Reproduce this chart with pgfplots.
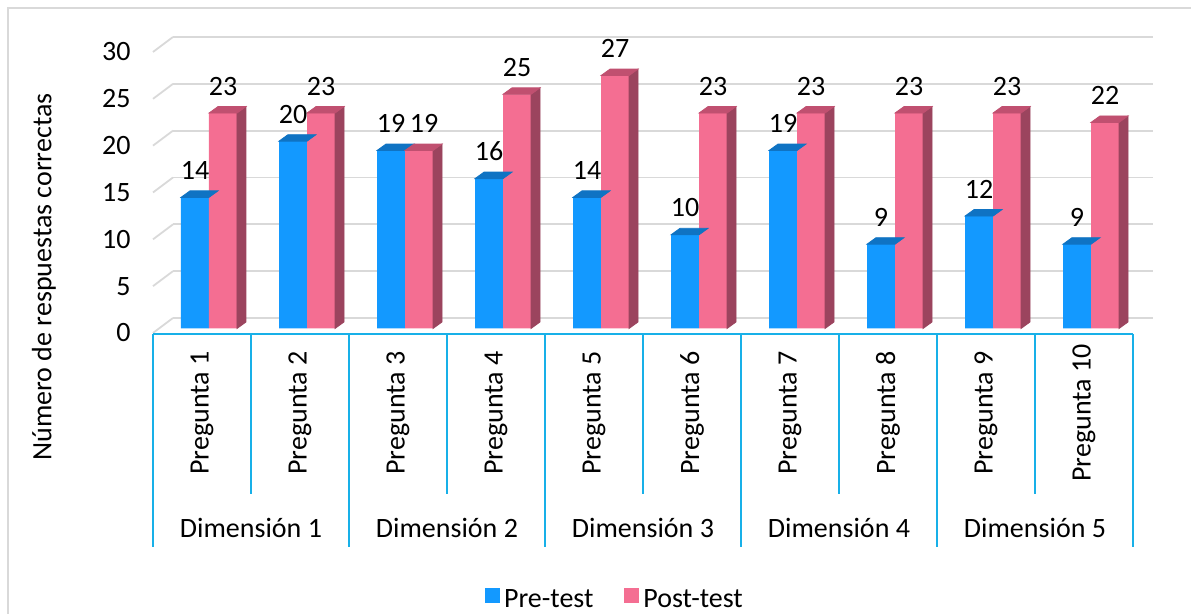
\documentclass[border=0pt]{standalone}
\usepackage{pgfplots}
\pgfplotsset{compat=1.18}
\usepackage{pgfplotstable}
\usepackage{fontspec}
\setmainfont{Carlito}
\definecolor{bluefront}{RGB}{19,153,255}
\definecolor{bluetop}{RGB}{15,115,195}
\definecolor{pinkfront}{RGB}{244,110,146}
\definecolor{pinktop}{RGB}{192,80,112}
\definecolor{pinkside}{RGB}{155,68,94}
\definecolor{gridgray}{RGB}{217,217,217}
\definecolor{axcyan}{RGB}{24,176,232}
\pgfdeclareplotmark{none3d}{}
\pgfplotstableread{
x pre post pshift
0 14 23 10.5
1 20 23 10.5
2 19 19 13
3 16 25 10.5
4 14 27 10.5
5 10 23 10.5
6 19 23 10.5
7 9 23 10.5
8 12 23 10.5
9 9 22 10.5
}\datatable
\newcommand{\lblfont}{\fontsize{14}{16}\selectfont}
\begin{document}
\begin{tikzpicture}
\useasboundingbox (0,0) rectangle (595.5pt,307pt);
\draw[gridgray, line width=0.75pt] (4pt,0pt) -- (4pt,303pt) -- (595.5pt,303pt);
\begin{axis}[
  at={(76.5pt,140.5pt)}, anchor=south west,
  scale only axis, width=490pt, height=140.5pt,
  xmin=-0.5, xmax=9.5, ymin=0, ymax=30,
  clip=false,
  axis line style={draw=none},
  major tick length=0pt,
  tick style={draw=none},
  ytick={0,5,...,30},
  xtick={0,...,9},
  xticklabels={Pregunta 1,Pregunta 2,Pregunta 3,Pregunta 4,Pregunta 5,Pregunta 6,Pregunta 7,Pregunta 8,Pregunta 9,Pregunta 10},
  tick label style={font=\lblfont},
  xticklabel style={rotate=90, anchor=center, xshift=-40pt, font=\lblfont},
  yticklabel style={anchor=east, inner sep=0pt, xshift=-11pt, font=\lblfont},
  /pgf/number format/assume math mode=true,
  ymajorgrids,
  major grid style={draw=gridgray, line width=0.9pt, xshift=10pt, yshift=7.5pt},
  ylabel={Número de respuestas correctas},
  ylabel style={at={(rel axis cs:-0.1112,0.199)}, anchor=center, font=\lblfont},
  legend style={at={(0.4724,-0.95)}, anchor=center, draw=none, fill=none,
    legend columns=2, font=\lblfont,
    /tikz/every even column/.append style={column sep=13.5pt}},
]
% left diagonal gridlines
\pgfplotsinvokeforeach{0,5,...,30}{
  \draw[gridgray, line width=0.9pt] (axis cs:-0.5,#1) -- ++(10pt,7.5pt);
}
% category axis
\draw[axcyan, line width=1pt] ([yshift=-0.5pt]axis cs:-0.5,0) -- ([yshift=-0.5pt]axis cs:9.5,0);
\pgfplotsinvokeforeach{-0.5,1.5,3.5,5.5,7.5,9.5}{
  \draw[axcyan, line width=1pt] ([yshift=-0.5pt]axis cs:#1,0) -- ++(0pt,-106.5pt);
}
\pgfplotsinvokeforeach{0.5,2.5,4.5,6.5,8.5}{
  \draw[axcyan, line width=1pt] ([yshift=-0.5pt]axis cs:#1,0) -- ++(0pt,-80pt);
}
\node[font=\lblfont] at ([yshift=-97.5pt]axis cs:0.5,0) {Dimensión 1};
\node[font=\lblfont] at ([yshift=-97.5pt]axis cs:2.5,0) {Dimensión 2};
\node[font=\lblfont] at ([yshift=-97.5pt]axis cs:4.5,0) {Dimensión 3};
\node[font=\lblfont] at ([yshift=-97.5pt]axis cs:6.5,0) {Dimensión 4};
\node[font=\lblfont] at ([yshift=-97.5pt]axis cs:8.5,0) {Dimensión 5};

% Pre-test front faces
\addplot[ybar, bar width=14pt, bar shift=-3.5pt, fill=bluefront, draw=none, yshift=2.25pt,
  legend image code/.code={\fill[bluefront] (0pt,-3.75pt) rectangle (7.5pt,3.75pt);}]
  table[x=x, y=pre] {\datatable};
\addlegendentry{Pre-test}
% Pre-test top faces
\addplot[scatter, only marks, mark=none3d, forget plot,
  point meta=y,
  scatter/@pre marker code/.code={%
    \fill[bluetop] (-10.5pt,2.25pt) -- ++(14pt,0pt) -- ++(4.5pt,3.25pt) -- ++(-14pt,0pt) -- cycle;
  },
  scatter/@post marker code/.code={},
] table[x=x, y=pre] {\datatable};

% Post-test front faces
\addplot[ybar, bar width=14pt, bar shift=10.5pt, fill=pinkfront, draw=none, yshift=2.25pt,
  legend image code/.code={\fill[pinkfront] (0pt,-3.75pt) rectangle (7.5pt,3.75pt);}]
  table[x=x, y=post] {\datatable};
\addlegendentry{Post-test}
% Post-test side and top faces
\addplot[scatter, only marks, mark=none3d, forget plot,
  point meta=y,
  visualization depends on={\thisrow{post} \as \barval},
  scatter/@pre marker code/.code={%
    \fill[pinkside] (17.5pt,2.25pt) -- ++(4.5pt,3.25pt) -- ++(axis direction cs:0,-\barval) -- ++(-4.5pt,-3.25pt) -- cycle;
    \fill[pinktop] (3.5pt,2.25pt) -- ++(14pt,0pt) -- ++(4.5pt,3.25pt) -- ++(-14pt,0pt) -- cycle;
  },
  scatter/@post marker code/.code={},
] table[x=x, y=post] {\datatable};

% value labels
\addplot[only marks, mark=none, forget plot,
  nodes near coords,
  every node near coord/.append style={anchor=center, xshift=-3.5pt, yshift=15.75pt, font=\lblfont, text=black},
] table[x=x, y=pre] {\datatable};
\addplot[only marks, mark=none, forget plot,
  visualization depends on={\thisrow{pshift} \as \pshift},
  nodes near coords,
  every node near coord/.append style={anchor=center, xshift=\pshift pt, yshift=15.75pt, font=\lblfont, text=black},
] table[x=x, y=post] {\datatable};
\end{axis}
\end{tikzpicture}
\end{document}
